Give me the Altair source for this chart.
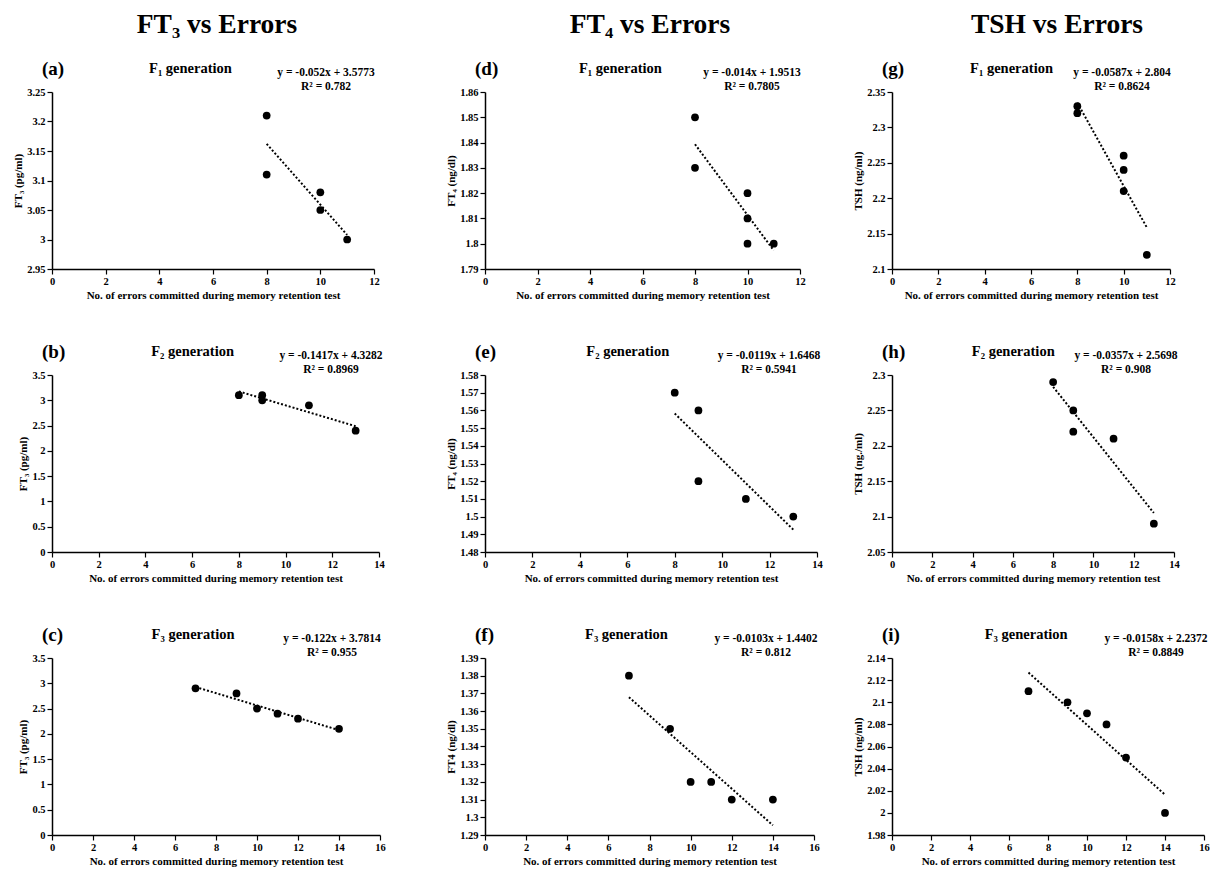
import altair as alt
import pandas as pd

FONT = "Liberation Serif"

# ---------------- data ----------------
a_x = [8, 8, 10, 10, 11]
a_y = [3.21, 3.11, 3.08, 3.05, 3.00]
b_x = [8, 9, 9, 11, 13]
b_y = [3.10, 3.10, 3.00, 2.90, 2.40]
c_x = [7, 9, 10, 11, 12, 14]
c_y = [2.90, 2.80, 2.50, 2.40, 2.30, 2.10]

d_x = [8, 8, 10, 10, 10, 11]
d_y = [1.85, 1.83, 1.82, 1.81, 1.80, 1.80]
e_x = [8, 9, 9, 11, 13]
e_y = [1.57, 1.56, 1.52, 1.51, 1.50]
f_x = [7, 9, 10, 11, 12, 14]
f_y = [1.38, 1.35, 1.32, 1.32, 1.31, 1.31]

g_x = [8, 8, 10, 10, 10, 11]
g_y = [2.33, 2.32, 2.26, 2.24, 2.21, 2.12]
h_x = [8, 9, 9, 11, 13]
h_y = [2.29, 2.25, 2.22, 2.21, 2.09]
i_x = [7, 9, 10, 11, 12, 14]
i_y = [2.11, 2.10, 2.09, 2.08, 2.05, 2.00]

x_ticks_12 = [0, 2, 4, 6, 8, 10, 12]
x_ticks_14 = [0, 2, 4, 6, 8, 10, 12, 14]
x_ticks_16 = [0, 2, 4, 6, 8, 10, 12, 14, 16]

a_yticks = [2.95, 3.0, 3.05, 3.1, 3.15, 3.2, 3.25]
bc_yticks = [0, 0.5, 1, 1.5, 2, 2.5, 3, 3.5]
d_yticks = [1.79, 1.80, 1.81, 1.82, 1.83, 1.84, 1.85, 1.86]
e_yticks = [1.48, 1.49, 1.50, 1.51, 1.52, 1.53, 1.54, 1.55, 1.56, 1.57, 1.58]
f_yticks = [1.29, 1.30, 1.31, 1.32, 1.33, 1.34, 1.35, 1.36, 1.37, 1.38, 1.39]
g_yticks = [2.1, 2.15, 2.2, 2.25, 2.3, 2.35]
h_yticks = [2.05, 2.1, 2.15, 2.2, 2.25, 2.3]
i_yticks = [1.98, 2.0, 2.02, 2.04, 2.06, 2.08, 2.10, 2.12, 2.14]

labels = ["(a)", "(b)", "(c)", "(d)", "(e)", "(f)", "(g)", "(h)", "(i)"]
generations = ["F\u2081 generation", "F\u2082 generation", "F\u2083 generation"]
equations = {
    "a": ("y = -0.052x + 3.5773", "R\u00b2 = 0.782"),
    "b": ("y = -0.1417x + 4.3282", "R\u00b2 = 0.8969"),
    "c": ("y = -0.122x + 3.7814", "R\u00b2 = 0.955"),
    "d": ("y = -0.014x + 1.9513", "R\u00b2 = 0.7805"),
    "e": ("y = -0.0119x + 1.6468", "R\u00b2 = 0.5941"),
    "f": ("y = -0.0103x + 1.4402", "R\u00b2 = 0.812"),
    "g": ("y = -0.0587x + 2.804", "R\u00b2 = 0.8624"),
    "h": ("y = -0.0357x + 2.5698", "R\u00b2 = 0.908"),
    "i": ("y = -0.0158x + 2.2372", "R\u00b2 = 0.8849"),
}
y_titles = {
    "a": "FT\u2083 (pg/ml)", "b": "FT\u2083 (pg/ml)", "c": "FT\u2083 (pg/ml)",
    "d": "FT\u2084 (ng/dl)", "e": "FT\u2084 (ng/dl)", "f": "FT4 (ng/dl)",
    "g": "TSH (ng/ml)", "h": "TSH (ng./ml)", "i": "TSH (ng/ml)",
}
headers = ["FT\u2083 vs Errors", "FT\u2084 vs Errors", "TSH vs Errors"]
x_title = "No. of errors committed during memory retention test"

# ---------------- layout (pixels) ----------------
H = 177
COL_W = [428, 402, 312]
plot_w = {"a": 322, "b": 327, "c": 328, "d": 315, "e": 332, "f": 329,
          "g": 278, "h": 282, "i": 312}

one_row = alt.Data(values=[{}])


def txt(t, x, y, size, align="center"):
    return alt.Chart(one_row).mark_text(
        text=t, font=FONT, fontWeight="bold", fontSize=size, align=align,
        baseline="middle", color="black"
    ).encode(x=alt.value(x), y=alt.value(y))


def panel(key, label, gen, xs, ys, xmax, xticks, ydom, yticks, col, header=None):
    pw = plot_w[key]
    df = pd.DataFrame({"x": xs, "y": ys})
    xscale = alt.Scale(domain=[0, xmax], range=[0, pw], nice=False, zero=False)
    yscale = alt.Scale(domain=ydom, nice=False, zero=False)
    pts = alt.Chart(df).mark_circle(size=60, color="black", opacity=1).encode(
        x=alt.X("x:Q", scale=xscale,
                axis=alt.Axis(values=xticks, title=x_title, format="~f",
                              labelOverlap=False, labelFlush=False,
                              labelBound=False, tickCount=len(xticks))),
        y=alt.Y("y:Q", scale=yscale,
                axis=alt.Axis(values=yticks, title=y_titles[key], format="~f",
                              labelOverlap=False, labelFlush=False,
                              labelBound=False, tickCount=len(yticks))),
    )
    trend = alt.Chart(df).transform_regression("x", "y").mark_line(
        color="black", strokeDash=[2, 2], strokeWidth=2
    ).encode(x=alt.X("x:Q", scale=xscale), y=alt.Y("y:Q", scale=yscale))
    eq1, eq2 = equations[key]
    layers = [
        trend, pts,
        txt(label, -10, -23, 19, "left"),
        txt(gen, 0.43 * pw, -23, 14.5),
        txt(eq1, pw - 48, -19, 11.5),
        txt(eq2, pw - 48, -5, 11.5),
    ]
    if header:
        layers.append(txt(header, 165, -67, 27.5))
    return alt.layer(*layers).properties(width=COL_W[col], height=H)


panels = [
    panel("a", labels[0], generations[0], a_x, a_y, 12, x_ticks_12, [2.95, 3.25], a_yticks, 0, headers[0]),
    panel("d", labels[3], generations[0], d_x, d_y, 12, x_ticks_12, [1.79, 1.86], d_yticks, 1, headers[1]),
    panel("g", labels[6], generations[0], g_x, g_y, 12, x_ticks_12, [2.1, 2.35], g_yticks, 2, headers[2]),
    panel("b", labels[1], generations[1], b_x, b_y, 14, x_ticks_14, [0, 3.5], bc_yticks, 0),
    panel("e", labels[4], generations[1], e_x, e_y, 14, x_ticks_14, [1.48, 1.58], e_yticks, 1),
    panel("h", labels[7], generations[1], h_x, h_y, 14, x_ticks_14, [2.05, 2.3], h_yticks, 2),
    panel("c", labels[2], generations[2], c_x, c_y, 16, x_ticks_16, [0, 3.5], bc_yticks, 0),
    panel("f", labels[5], generations[2], f_x, f_y, 16, x_ticks_16, [1.29, 1.39], f_yticks, 1),
    panel("i", labels[8], generations[2], i_x, i_y, 16, x_ticks_16, [1.98, 2.14], i_yticks, 2),
]

chart = alt.concat(
    *panels, columns=3, spacing={"row": 106, "column": 5}, bounds="flush"
).properties(
    padding={"left": 4, "top": 3, "right": 0, "bottom": 0},
    background="white",
).configure_view(
    strokeWidth=0
).configure_axis(
    domainColor="black", domainWidth=1.5, tickColor="black", tickWidth=1.2,
    tickSize=5, labelFont=FONT, labelFontWeight="bold", labelFontSize=10.5,
    labelColor="black", labelPadding=2, titleFont=FONT, titleFontWeight="bold",
    titleFontSize=11, titleColor="black", titlePadding=3, grid=False
)

chart.save("out.html", embed_options={"renderer": "svg", "actions": False})
